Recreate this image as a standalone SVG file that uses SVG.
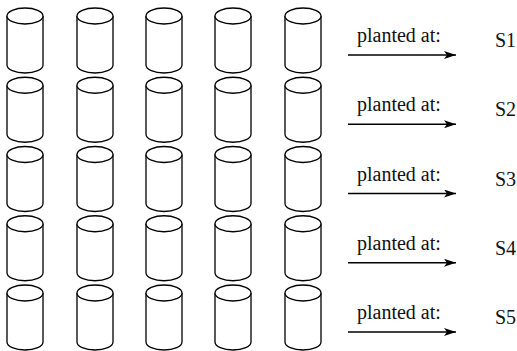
<svg xmlns="http://www.w3.org/2000/svg" xmlns:xlink="http://www.w3.org/1999/xlink" width="517" height="351" viewBox="0 0 517 351">
<style>
.cyl{fill:#fff;stroke:#000;stroke-width:1.3}
text{font-family:'Liberation Serif','DejaVu Serif',serif;font-size:20px;fill:#111}
.arr{stroke:#000;stroke-width:1.3;fill:none}
</style>
<defs>
<g id="c">
<path class="cyl" d="M-18,16 L-18,65 A18,8 0 0 0 18,65 L18,16"/>
<ellipse class="cyl" cx="0" cy="16" rx="18" ry="8"/>
</g>
<marker id="ah" markerWidth="12" markerHeight="8" refX="12" refY="4" orient="auto" markerUnits="userSpaceOnUse">
<path d="M0,0 L12,4 L0,8 L3,4 Z" fill="#000"/>
</marker>
</defs>
<g id="nodes">
<g id="row1" transform="translate(0,0)">
<use xlink:href="#c" x="25"/><use xlink:href="#c" x="95"/><use xlink:href="#c" x="164"/><use xlink:href="#c" x="233"/><use xlink:href="#c" x="303"/>
</g>
<g id="row2" transform="translate(0,69.25)">
<use xlink:href="#c" x="25"/><use xlink:href="#c" x="95"/><use xlink:href="#c" x="164"/><use xlink:href="#c" x="233"/><use xlink:href="#c" x="303"/>
</g>
<g id="row3" transform="translate(0,138.5)">
<use xlink:href="#c" x="25"/><use xlink:href="#c" x="95"/><use xlink:href="#c" x="164"/><use xlink:href="#c" x="233"/><use xlink:href="#c" x="303"/>
</g>
<g id="row4" transform="translate(0,207.75)">
<use xlink:href="#c" x="25"/><use xlink:href="#c" x="95"/><use xlink:href="#c" x="164"/><use xlink:href="#c" x="233"/><use xlink:href="#c" x="303"/>
</g>
<g id="row5" transform="translate(0,277)">
<use xlink:href="#c" x="25"/><use xlink:href="#c" x="95"/><use xlink:href="#c" x="164"/><use xlink:href="#c" x="233"/><use xlink:href="#c" x="303"/>
</g>
</g>
<g id="S1" transform="translate(0,0)"><text font-family="Liberation Serif, serif" x="495" y="47">S1</text></g>
<g id="S2" transform="translate(0,69.25)"><text font-family="Liberation Serif, serif" x="495" y="47">S2</text></g>
<g id="S3" transform="translate(0,138.5)"><text font-family="Liberation Serif, serif" x="495" y="47">S3</text></g>
<g id="S4" transform="translate(0,207.75)"><text font-family="Liberation Serif, serif" x="495" y="47">S4</text></g>
<g id="S5" transform="translate(0,277)"><text font-family="Liberation Serif, serif" x="495" y="47">S5</text></g>
<g id="connectors">
<g transform="translate(0,0)"><line class="arr" x1="348" y1="55" x2="456" y2="55" marker-end="url(#ah)"/><text font-family="Liberation Serif, serif" x="357" y="42">planted at:</text></g>
<g transform="translate(0,69.25)"><line class="arr" x1="348" y1="55" x2="456" y2="55" marker-end="url(#ah)"/><text font-family="Liberation Serif, serif" x="357" y="42">planted at:</text></g>
<g transform="translate(0,138.5)"><line class="arr" x1="348" y1="55" x2="456" y2="55" marker-end="url(#ah)"/><text font-family="Liberation Serif, serif" x="357" y="42">planted at:</text></g>
<g transform="translate(0,207.75)"><line class="arr" x1="348" y1="55" x2="456" y2="55" marker-end="url(#ah)"/><text font-family="Liberation Serif, serif" x="357" y="42">planted at:</text></g>
<g transform="translate(0,277)"><line class="arr" x1="348" y1="55" x2="456" y2="55" marker-end="url(#ah)"/><text font-family="Liberation Serif, serif" x="357" y="42">planted at:</text></g>
</g>
</svg>
